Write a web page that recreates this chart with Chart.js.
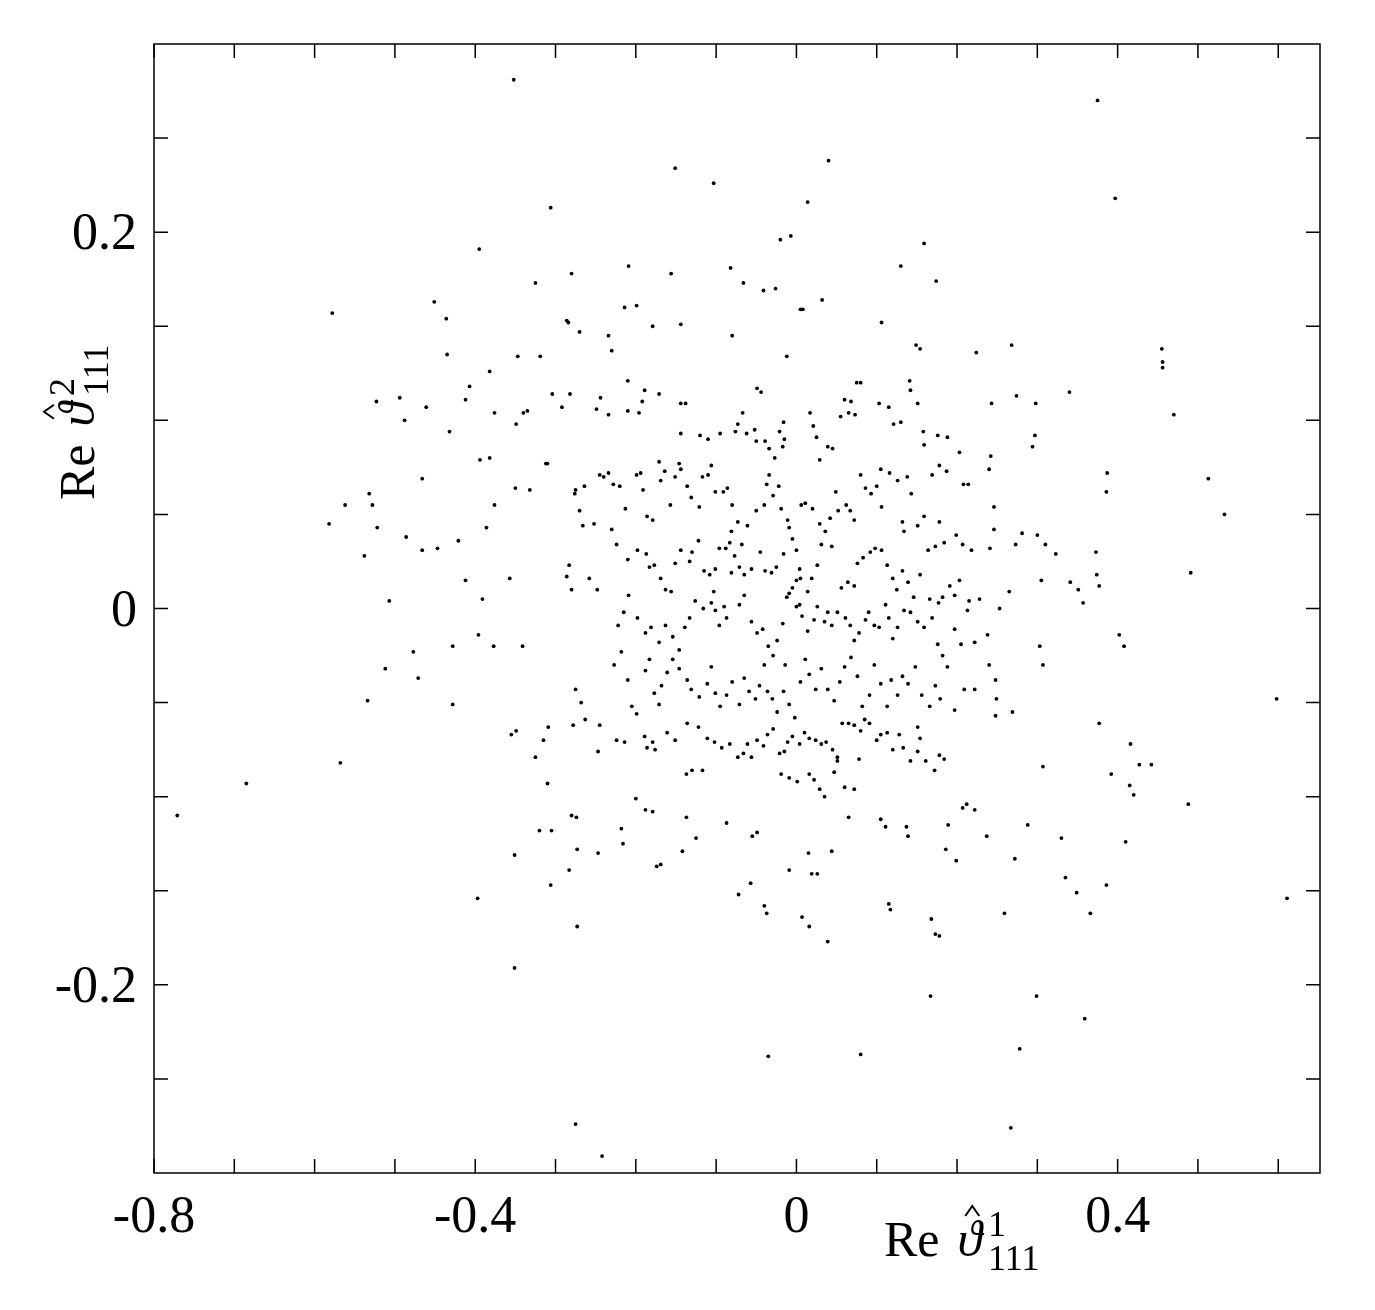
<!DOCTYPE html>
<html><head><meta charset="utf-8">
<script src="https://cdn.jsdelivr.net/npm/chart.js@4"></script>
<style>html,body{margin:0;padding:0;background:#fff}#wrap{width:1375px;height:1310px}</style>
</head><body><div id="wrap"><canvas id="c"></canvas></div>
<script>
const xTicks=[-0.8,-0.7,-0.6,-0.5,-0.4,-0.3,-0.2,-0.1,0,0.1,0.2,0.3,0.4,0.5,0.6];
const xLabeled=[-0.8,-0.4,0,0.4];
const yTicks=[-0.25,-0.2,-0.15,-0.1,-0.05,0,0.05,0.1,0.15,0.2,0.25];
const yLabeled=[-0.2,0,0.2];
const outerPoints=[[-0.352,0.281],[0.375,0.270],[0.040,0.238],[-0.151,0.234],[-0.103,0.226],[0.014,0.216],[0.397,0.218],[-0.306,0.213],[-0.007,0.198],[-0.020,0.196],[-0.395,0.191],[0.159,0.194],[-0.280,0.178],[-0.209,0.182],[-0.156,0.178],[-0.082,0.181],[-0.066,0.173],[-0.041,0.169],[-0.026,0.170],[0.130,0.182],[0.174,0.174],[-0.325,0.173],[-0.578,0.157],[-0.451,0.163],[-0.436,0.154],[-0.286,0.153],[-0.284,0.152],[-0.214,0.160],[-0.199,0.161],[-0.270,0.147],[-0.234,0.145],[-0.179,0.150],[-0.144,0.151],[-0.080,0.145],[0.005,0.159],[0.008,0.159],[0.032,0.164],[0.106,0.152],[0.149,0.140],[0.154,0.138],[0.224,0.136],[0.268,0.140],[0.455,0.138],[0.456,0.131],[0.456,0.128],[-0.435,0.135],[-0.382,0.126],[-0.347,0.134],[-0.319,0.134],[-0.230,0.137],[-0.012,0.134],[-0.494,0.112],[-0.523,0.110],[-0.488,0.100],[-0.461,0.107],[-0.407,0.118],[-0.412,0.111],[-0.432,0.094],[-0.394,0.079],[-0.382,0.080],[-0.376,0.104],[-0.349,0.098],[-0.340,0.104],[-0.335,0.105],[-0.304,0.114],[-0.282,0.114],[-0.292,0.107],[-0.312,0.077],[-0.310,0.077],[-0.350,0.064],[-0.332,0.063],[-0.376,0.055],[-0.386,0.043],[-0.466,0.069],[-0.562,0.055],[-0.532,0.061],[-0.528,0.055],[-0.582,0.045],[-0.522,0.043],[-0.538,0.028],[-0.486,0.038],[-0.466,0.031],[-0.447,0.032],[-0.421,0.036],[-0.507,0.004],[-0.412,0.015],[-0.391,0.005],[-0.357,0.016],[-0.512,-0.032],[-0.477,-0.023],[-0.471,-0.037],[-0.428,-0.020],[-0.396,-0.014],[-0.377,-0.020],[-0.341,-0.020],[-0.428,-0.051],[-0.534,-0.049],[-0.568,-0.082],[-0.685,-0.093],[-0.771,-0.110],[-0.355,-0.067],[-0.349,-0.065],[-0.325,-0.079],[-0.315,-0.070],[-0.309,-0.063],[-0.310,-0.093],[-0.275,-0.043],[-0.268,-0.050],[-0.263,-0.059],[-0.278,-0.062],[-0.245,-0.062],[-0.247,-0.076],[-0.320,-0.118],[-0.305,-0.118],[-0.280,-0.110],[-0.274,-0.111],[-0.273,-0.128],[-0.247,-0.130],[-0.351,-0.131],[-0.306,-0.147],[-0.283,-0.139],[-0.397,-0.154],[-0.273,-0.169],[-0.351,-0.191],[-0.275,-0.274],[-0.242,-0.291],[-0.188,-0.107],[-0.179,-0.108],[-0.218,-0.117],[-0.216,-0.125],[-0.174,-0.137],[-0.169,-0.136],[-0.200,-0.101],[-0.137,-0.111],[-0.142,-0.129],[-0.125,-0.122],[-0.137,-0.088],[-0.130,-0.086],[-0.117,-0.086],[-0.087,-0.114],[-0.055,-0.121],[-0.049,-0.119],[-0.072,-0.152],[-0.057,-0.146],[-0.040,-0.158],[-0.037,-0.162],[-0.009,-0.139],[0.007,-0.164],[0.016,-0.169],[0.039,-0.177],[0.019,-0.141],[0.026,-0.141],[0.015,-0.130],[0.044,-0.129],[0.065,-0.111],[0.105,-0.112],[0.111,-0.116],[0.137,-0.116],[0.139,-0.121],[0.115,-0.157],[0.117,-0.160],[0.168,-0.165],[0.173,-0.173],[0.178,-0.174],[0.167,-0.206],[0.207,-0.106],[0.212,-0.104],[0.222,-0.107],[0.189,-0.115],[0.199,-0.134],[0.186,-0.128],[0.237,-0.121],[0.259,-0.162],[0.272,-0.133],[0.288,-0.115],[0.267,-0.276],[0.278,-0.234],[0.299,-0.206],[0.080,-0.237],[-0.035,-0.238],[0.330,-0.122],[0.335,-0.143],[0.349,-0.151],[0.366,-0.162],[0.359,-0.218],[0.386,-0.147],[0.410,-0.124],[0.488,-0.104],[0.392,-0.088],[0.415,-0.094],[0.420,-0.099],[0.427,-0.083],[0.442,-0.083],[0.416,-0.072],[0.377,-0.061],[0.307,-0.084],[0.598,-0.048],[0.611,-0.154],[0.402,-0.014],[0.408,-0.020],[0.357,0.003],[0.351,0.010],[0.341,0.014],[0.374,0.018],[0.377,0.012],[0.491,0.019],[0.373,0.030],[0.533,0.050],[0.513,0.069],[0.386,0.062],[0.387,0.072],[0.470,0.103],[0.340,0.115],[0.298,0.109],[0.297,0.092],[0.274,0.113],[0.243,0.109],[0.294,0.086],[0.242,0.081],[0.240,0.074],[0.203,0.083],[0.208,0.066],[0.214,0.066],[0.178,0.076],[0.187,0.073],[0.169,0.071],[0.246,0.054],[0.246,0.042],[0.281,0.040],[0.300,0.039],[0.310,0.034],[0.273,0.034],[0.323,0.029],[0.241,0.032],[0.199,0.039],[0.207,0.034],[0.218,0.031],[0.303,-0.020],[0.307,-0.030],[0.305,0.015],[0.265,0.009],[0.253,0.000],[0.215,0.004],[0.228,0.005],[0.238,-0.014],[0.240,-0.030],[0.248,-0.038],[0.209,-0.043],[0.222,-0.043],[0.249,-0.048],[0.248,-0.057],[0.269,-0.055],[0.151,-0.063],[0.154,-0.069]];
const corePoints=[[-0.249,0.106],[-0.244,0.112],[-0.234,0.103],[-0.210,0.121],[-0.210,0.105],[-0.189,0.116],[-0.192,0.110],[-0.196,0.104],[-0.171,0.114],[-0.144,0.109],[-0.138,0.109],[-0.144,0.093],[-0.120,0.092],[-0.110,0.090],[-0.095,0.093],[-0.073,0.098],[-0.076,0.094],[-0.067,0.104],[-0.062,0.093],[-0.052,0.095],[-0.049,0.117],[-0.044,0.115],[-0.050,0.089],[-0.039,0.089],[-0.034,0.085],[-0.027,0.080],[-0.021,0.094],[-0.016,0.099],[-0.017,0.086],[-0.015,0.090],[0.017,0.104],[0.021,0.097],[0.025,0.091],[0.029,0.079],[0.039,0.086],[0.045,0.085],[0.055,0.102],[0.060,0.111],[0.065,0.104],[0.068,0.110],[0.073,0.103],[0.075,0.120],[0.080,0.120],[0.103,0.109],[0.115,0.107],[0.121,0.098],[0.130,0.099],[0.141,0.121],[0.142,0.116],[0.151,0.109],[0.158,0.094],[0.159,0.087],[0.176,0.092],[0.188,0.091],
[-0.276,0.061],[-0.275,0.063],[-0.264,0.065],[-0.270,0.052],[-0.266,0.044],[-0.245,0.071],[-0.240,0.070],[-0.234,0.072],[-0.228,0.066],[-0.220,0.065],[-0.213,0.053],[-0.199,0.071],[-0.194,0.072],[-0.191,0.063],[-0.186,0.049],[-0.179,0.047],[-0.171,0.078],[-0.169,0.068],[-0.164,0.073],[-0.157,0.055],[-0.151,0.070],[-0.146,0.077],[-0.144,0.074],[-0.136,0.065],[-0.131,0.059],[-0.121,0.054],[-0.117,0.070],[-0.110,0.071],[-0.106,0.076],[-0.101,0.062],[-0.091,0.062],[-0.086,0.064],[-0.080,0.055],[-0.081,0.041],[-0.073,0.046],[-0.068,0.034],[-0.083,0.035],[-0.061,0.044],[-0.050,0.052],[-0.040,0.055],[-0.037,0.066],[-0.034,0.071],[-0.029,0.060],[-0.022,0.065],[-0.019,0.053],[-0.011,0.047],[-0.009,0.043],[0.006,0.055],[0.011,0.056],[0.020,0.053],[0.029,0.045],[0.036,0.041],[0.042,0.048],[0.049,0.062],[0.052,0.052],[0.062,0.055],[0.067,0.052],[0.072,0.047],[0.080,0.071],[0.086,0.064],[0.093,0.061],[0.100,0.065],[0.105,0.074],[0.106,0.054],[0.116,0.072],[0.126,0.068],[0.132,0.046],[0.134,0.041],[0.138,0.070],[0.143,0.061],[0.151,0.044],[0.159,0.049],[0.164,0.031],[0.173,0.033],[0.184,0.035],[0.178,0.046],
[-0.283,0.023],[-0.286,0.017],[-0.280,0.010],[-0.252,0.045],[-0.230,0.042],[-0.224,0.034],[-0.210,0.026],[-0.209,0.007],[-0.198,0.031],[-0.187,0.029],[-0.183,0.022],[-0.177,0.023],[-0.169,0.016],[-0.163,0.010],[-0.156,0.009],[-0.151,0.024],[-0.144,0.031],[-0.133,0.025],[-0.130,0.030],[-0.122,0.036],[-0.115,0.020],[-0.108,0.018],[-0.103,0.009],[-0.101,0.021],[-0.096,0.032],[-0.088,0.032],[-0.081,0.019],[-0.077,0.028],[-0.071,0.022],[-0.065,0.018],[-0.056,0.021],[-0.045,0.030],[-0.039,0.020],[-0.031,0.019],[-0.025,0.022],[-0.016,0.029],[-0.005,0.037],[0.000,0.031],[0.004,0.021],[0.000,0.015],[0.005,0.016],[0.014,0.009],[0.019,0.016],[0.026,0.023],[0.031,0.034],[0.044,0.033],[0.056,0.011],[0.064,0.014],[0.072,0.012],[0.076,0.024],[0.083,0.027],[0.092,0.030],[0.098,0.032],[0.106,0.031],[0.113,0.023],[0.120,0.016],[0.125,0.010],[0.132,0.020],[0.139,0.014],[0.146,0.006],[0.154,0.018],[0.166,0.005],[0.177,0.003],[0.182,0.006],[0.191,0.012],[0.197,0.007],[0.203,0.015],
[-0.258,0.016],[-0.248,0.010],[-0.222,-0.009],[-0.215,-0.002],[-0.198,-0.005],[-0.188,-0.013],[-0.181,-0.010],[-0.171,-0.018],[-0.163,-0.009],[-0.154,-0.015],[-0.146,-0.022],[-0.139,-0.010],[-0.133,-0.005],[-0.126,0.004],[-0.116,0.000],[-0.106,0.003],[-0.101,-0.001],[-0.096,-0.009],[-0.090,0.001],[-0.087,-0.005],[-0.071,0.002],[-0.065,0.007],[-0.056,-0.007],[-0.049,-0.013],[-0.042,-0.011],[-0.035,-0.020],[-0.029,-0.025],[-0.024,-0.017],[-0.017,-0.008],[-0.012,0.006],[-0.009,0.008],[-0.005,0.011],[0.000,0.001],[0.004,0.002],[0.007,-0.004],[0.014,-0.012],[0.022,-0.006],[0.026,0.001],[0.035,-0.007],[0.039,-0.002],[0.044,-0.009],[0.051,-0.002],[0.061,-0.005],[0.067,-0.009],[0.072,-0.017],[0.078,-0.013],[0.086,-0.006],[0.090,-0.002],[0.097,-0.009],[0.103,-0.010],[0.111,0.002],[0.115,-0.005],[0.120,-0.016],[0.126,-0.010],[0.134,-0.001],[0.142,-0.002],[0.151,-0.007],[0.159,-0.010],[0.169,-0.005],[0.176,-0.019],[0.182,-0.025],[0.197,-0.011],[0.205,-0.019],[0.213,-0.001],[0.222,-0.018],
[-0.227,-0.030],[-0.218,-0.023],[-0.210,-0.038],[-0.205,-0.052],[-0.199,-0.056],[-0.188,-0.033],[-0.183,-0.027],[-0.177,-0.045],[-0.171,-0.051],[-0.168,-0.041],[-0.161,-0.034],[-0.154,-0.027],[-0.146,-0.032],[-0.136,-0.038],[-0.131,-0.043],[-0.121,-0.047],[-0.111,-0.040],[-0.106,-0.031],[-0.101,-0.045],[-0.095,-0.052],[-0.087,-0.046],[-0.080,-0.039],[-0.071,-0.051],[-0.065,-0.037],[-0.059,-0.044],[-0.051,-0.048],[-0.046,-0.041],[-0.040,-0.030],[-0.036,-0.044],[-0.030,-0.048],[-0.024,-0.055],[-0.016,-0.044],[-0.014,-0.030],[-0.009,-0.051],[-0.002,-0.058],[0.005,-0.039],[0.011,-0.027],[0.016,-0.035],[0.024,-0.043],[0.031,-0.032],[0.039,-0.043],[0.047,-0.049],[0.054,-0.039],[0.060,-0.031],[0.068,-0.026],[0.076,-0.036],[0.082,-0.052],[0.091,-0.046],[0.097,-0.030],[0.105,-0.040],[0.113,-0.052],[0.118,-0.038],[0.126,-0.046],[0.132,-0.036],[0.139,-0.040],[0.148,-0.031],[0.156,-0.046],[0.166,-0.052],[0.173,-0.041],[0.179,-0.048],[0.188,-0.031],[0.197,-0.054],
[-0.224,-0.070],[-0.214,-0.071],[-0.189,-0.068],[-0.186,-0.074],[-0.179,-0.071],[-0.176,-0.075],[-0.161,-0.066],[-0.151,-0.070],[-0.136,-0.061],[-0.122,-0.063],[-0.111,-0.069],[-0.102,-0.071],[-0.093,-0.074],[-0.083,-0.072],[-0.073,-0.079],[-0.066,-0.077],[-0.061,-0.072],[-0.056,-0.079],[-0.049,-0.070],[-0.041,-0.073],[-0.036,-0.067],[-0.029,-0.064],[-0.021,-0.077],[-0.015,-0.076],[-0.011,-0.071],[-0.005,-0.068],[0.004,-0.072],[0.010,-0.066],[0.016,-0.069],[0.024,-0.070],[0.031,-0.072],[0.037,-0.071],[0.045,-0.075],[0.051,-0.079],[0.057,-0.061],[0.065,-0.061],[0.072,-0.062],[0.080,-0.065],[0.085,-0.059],[0.091,-0.061],[0.100,-0.070],[0.105,-0.067],[0.113,-0.066],[0.120,-0.075],[0.128,-0.067],[0.133,-0.074],[0.142,-0.081],[0.151,-0.076],[0.161,-0.081],[0.172,-0.086],[0.178,-0.078],[0.184,-0.080],[-0.019,-0.088],[-0.009,-0.090],[0.001,-0.092],[0.016,-0.088],[0.022,-0.091],[0.029,-0.096],[0.035,-0.100],[0.047,-0.087],[0.051,-0.081],[0.060,-0.095],[0.072,-0.096],[0.078,-0.080]];

const allPoints=outerPoints.concat(corePoints).map(p=>({x:p[0],y:p[1]}));
const SERIF='"Liberation Serif","DejaVu Serif",serif';
function fmt(v){return v===0?'0':String(v);}

const frame={id:'frame',afterDraw(c){
  const ctx=c.ctx,a=c.chartArea,xs=c.scales.x,ys=c.scales.y;
  ctx.save();ctx.strokeStyle='#000';ctx.lineWidth=1.5;
  ctx.strokeRect(a.left,a.top,a.right-a.left,a.bottom-a.top);
  const L=14;ctx.beginPath();
  xTicks.forEach(v=>{const px=xs.getPixelForValue(v);ctx.moveTo(px,a.bottom);ctx.lineTo(px,a.bottom-L);ctx.moveTo(px,a.top);ctx.lineTo(px,a.top+L);});
  yTicks.forEach(v=>{const py=ys.getPixelForValue(v);ctx.moveTo(a.left,py);ctx.lineTo(a.left+L,py);ctx.moveTo(a.right,py);ctx.lineTo(a.right-L,py);});
  ctx.stroke();
  ctx.fillStyle='#000';ctx.textBaseline='alphabetic';
  ctx.font='52px '+SERIF;
  ctx.textAlign='center';
  xLabeled.forEach(v=>{ctx.fillText(fmt(v),xs.getPixelForValue(v),1232);});
  ctx.textAlign='right';
  yLabeled.forEach(v=>{ctx.fillText(fmt(v),137,ys.getPixelForValue(v)+17);});
  function title(x,y,sup){
    ctx.textAlign='left';
    ctx.font='50px '+SERIF;ctx.fillText('Re',x,y);
    const w=ctx.measureText('Re').width+18;
    ctx.font='italic 50px '+SERIF;ctx.fillText('\u03D1',x+w,y);
    const tw=ctx.measureText('\u03D1').width;
    const hx=x+w+tw*0.6;
    ctx.beginPath();ctx.lineWidth=2;ctx.moveTo(hx-7,y-40);ctx.lineTo(hx,y-50);ctx.lineTo(hx+7,y-40);ctx.stroke();
    ctx.font='36px '+SERIF;
    ctx.fillText(sup,x+w+tw+6,y-20);ctx.fillText('111',x+w+tw+6,y+14);
  }
  title(884,1256,'1');
  ctx.translate(94,500);ctx.rotate(-Math.PI/2);title(0,0,'2');
  ctx.restore();
}};

new Chart(document.getElementById('c'),{
  type:'scatter',
  data:{datasets:[{data:allPoints,pointRadius:1.9,pointBackgroundColor:'#000',pointBorderWidth:0,pointHoverRadius:1.9}]},
  options:{responsive:true,maintainAspectRatio:false,animation:false,
    layout:{padding:{top:44,right:55,left:0,bottom:0}},
    plugins:{legend:{display:false},tooltip:{enabled:false}},
    scales:{
      x:{type:'linear',min:-0.8,max:0.652,
        afterBuildTicks(s){s.ticks=xTicks.map(v=>({value:v}));},
        afterFit(s){s.height=137;},
        grid:{display:false,drawTicks:false},border:{display:false},
        ticks:{display:false}},
      y:{type:'linear',min:-0.3,max:0.3,
        afterBuildTicks(s){s.ticks=yTicks.map(v=>({value:v}));},
        afterFit(s){s.width=154;},
        grid:{display:false,drawTicks:false},border:{display:false},
        ticks:{display:false}}
    }},
  plugins:[frame]
});
</script></body></html>
